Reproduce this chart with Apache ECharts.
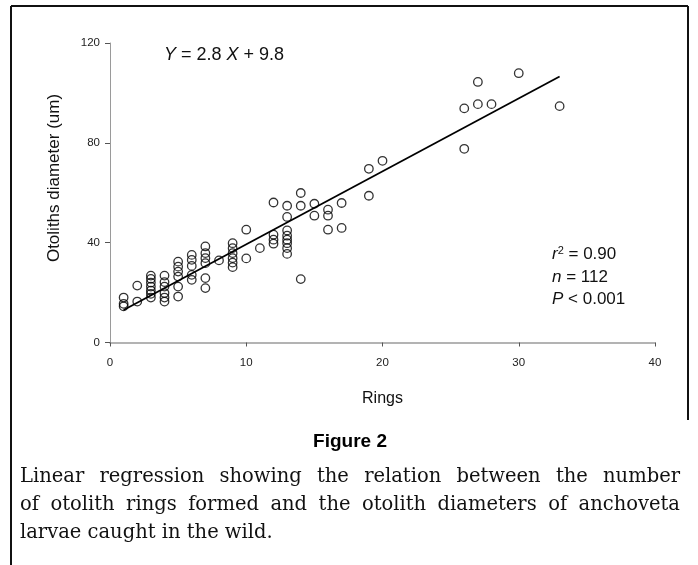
<!DOCTYPE html>
<html>
<head>
<meta charset="utf-8">
<script src="https://cdn.jsdelivr.net/npm/echarts@6/dist/echarts.min.js"></script>
<style>
html,body{margin:0;padding:0;background:#fff;}
#c{width:698px;height:565px;}
</style>
</head>
<body>
<div id="c"></div>
<script>
// ---- data ----
var rings = [
  1,1,1,
  2,2,
  3,3,3,3,3,3,3,
  4,4,4,4,4,4,
  5,5,5,5,5,5,
  6,6,6,6,6,
  7,7,7,7,7,7,
  8,
  9,9,9,9,9,9,
  10,10,
  11,
  12,12,12,12,
  13,13,13,13,13,13,13,13,
  14,14,14,
  15,15,
  16,16,16,
  17,17,
  19,19,
  20,
  26,26,26,
  27,27,
  28,
  30,
  33
];
var diameters = [
  18,15.5,14.5,
  22.8,16.4,
  26.8,25.5,24,22.4,20.8,19.5,18,
  26.8,24.2,22.4,19.8,18,16.4,
  32.4,30.4,28.4,26.4,22.4,18.4,
  35.1,33.1,30.7,27.1,25.1,
  38.5,35.8,33.8,31.8,25.8,21.8,
  32.9,
  39.8,37.8,35.8,33.8,32.0,30.2,
  45.2,33.7,
  37.8,
  56.1,43.2,41.2,39.6,
  54.8,50.3,44.9,42.8,41.2,39.8,37.8,35.5,
  59.9,54.8,25.4,
  55.6,50.8,
  53.2,50.8,45.2,
  55.9,45.9,
  69.6,58.8,
  72.8,
  120.2,93.8,77.6,
  104.4,95.5,
  95.5,
  107.9,
  94.7
];
var fitX = [1, 33];
var fitY = [13.0, 106.6];
var xTicks = [0, 10, 20, 30, 40];
var yTicks = [0, 40, 80, 120];
var captionLines = [
  "Linear regression showing the relation between the number",
  "of otolith rings formed and the otolith diameters of anchoveta",
  "larvae caught in the wild."
];

var points = rings.map(function(r, i){ return [r, diameters[i]]; });
var fitLine = fitX.map(function(x, i){ return [x, fitY[i]]; });

// ---- caption justification (layout only) ----
var capFont = '19.5px "DejaVu Serif"';
var meas = document.createElement('canvas').getContext('2d');
meas.font = capFont;
var capLeft = 20, capRight = 680, capMid = [477, 505, 533];
var captionGraphics = [];
captionLines.forEach(function(line, li){
  var words = line.split(' ');
  var justify = li < captionLines.length - 1;
  var widths = words.map(function(w){ return meas.measureText(w).width; });
  var total = widths.reduce(function(a,b){return a+b;}, 0);
  var gap = justify ? (capRight - capLeft - total) / (words.length - 1) : meas.measureText(' ').width;
  var x = capLeft;
  words.forEach(function(w, wi){
    captionGraphics.push({
      type: 'text', x: x, y: capMid[li],
      style: { text: w, font: capFont, fill: '#111', textVerticalAlign: 'middle', verticalAlign: 'middle' }
    });
    x += widths[wi] + gap;
  });
});

var chart = echarts.init(document.getElementById('c'), null, {renderer: 'canvas'});
var axisFont = 'Liberation Sans';
var italic = function(size){ return { fontStyle: 'italic', fontFamily: axisFont, fontSize: size, fill: '#111', color: '#111' }; };
var option = {
  backgroundColor: '#fff',
  animation: false,
  grid: { left: 110, right: 43, top: 43, bottom: 222.5 },
  xAxis: {
    type: 'value', min: 0, max: 40, interval: 10,
    axisLine: { lineStyle: { color: '#9a9a9a', width: 1.5 } },
    axisTick: { show: true, length: 4, lineStyle: { color: '#555' } },
    axisLabel: { color: '#222', fontFamily: axisFont, fontSize: 11.5, margin: 14,
      formatter: function(v){ return xTicks.indexOf(v) >= 0 ? String(v) : ''; } },
    splitLine: { show: false },
    name: 'Rings', nameLocation: 'middle', nameGap: 48,
    nameTextStyle: { fontFamily: axisFont, fontSize: 16, color: '#111' }
  },
  yAxis: {
    type: 'value', min: 0, max: 120, interval: 40,
    axisLine: { show: true, lineStyle: { color: '#9a9a9a', width: 1 } },
    axisTick: { show: true, length: 5, lineStyle: { color: '#555' } },
    axisLabel: { color: '#222', fontFamily: axisFont, fontSize: 11.5, margin: 10,
      formatter: function(v){ return yTicks.indexOf(v) >= 0 ? String(v) : ''; } },
    splitLine: { show: false }
  },
  series: [
    {
      type: 'scatter', data: points, symbol: 'circle', symbolSize: 8.5,
      itemStyle: { color: 'rgba(0,0,0,0)', borderColor: '#000', borderWidth: 1.3 },
      z: 3
    },
    {
      type: 'line', data: fitLine, showSymbol: false, symbol: 'none',
      lineStyle: { color: '#000', width: 1.8 }, z: 2
    }
  ],
  graphic: [
    { type: 'line', shape: { x1: 11, y1: 6, x2: 688, y2: 6 }, style: { stroke: '#111', lineWidth: 2 } },
    { type: 'line', shape: { x1: 11, y1: 6, x2: 11, y2: 565 }, style: { stroke: '#111', lineWidth: 2 } },
    { type: 'line', shape: { x1: 688, y1: 6, x2: 688, y2: 420 }, style: { stroke: '#111', lineWidth: 2 } },
    {
      type: 'text', x: 54, y: 178, rotation: Math.PI / 2,
      style: { text: 'Otoliths diameter (um)', font: '17px "Liberation Sans"', fill: '#111',
        textAlign: 'center', textVerticalAlign: 'middle', align: 'center', verticalAlign: 'middle' }
    },
    {
      type: 'text', x: 164, y: 55,
      style: {
        text: '{i|Y} = 2.8 {i|X} + 9.8', textVerticalAlign: 'middle', verticalAlign: 'middle',
        font: '18px "Liberation Sans"', fill: '#111',
        rich: { i: italic(18) }
      }
    },
    {
      type: 'text', x: 552, y: 254,
      style: {
        text: '{i|r}{s|2} = 0.90', textVerticalAlign: 'middle', verticalAlign: 'middle',
        font: '17px "Liberation Sans"', fill: '#111',
        rich: {
          i: italic(17),
          s: { fontFamily: axisFont, fontSize: 11, fill: '#111', color: '#111', verticalAlign: 'top', padding: [0,0,7,0] }
        }
      }
    },
    {
      type: 'text', x: 552, y: 277,
      style: {
        text: '{i|n} = 112', textVerticalAlign: 'middle', verticalAlign: 'middle',
        font: '17px "Liberation Sans"', fill: '#111', rich: { i: italic(17) }
      }
    },
    {
      type: 'text', x: 552, y: 299,
      style: {
        text: '{i|P} < 0.001', textVerticalAlign: 'middle', verticalAlign: 'middle',
        font: '17px "Liberation Sans"', fill: '#111', rich: { i: italic(17) }
      }
    },
    {
      type: 'text', x: 350, y: 442,
      style: { text: 'Figure 2', font: 'bold 19px "Liberation Sans Narrow", "Liberation Sans"', fill: '#000',
        textAlign: 'center', textVerticalAlign: 'middle', align: 'center', verticalAlign: 'middle' }
    }
  ].concat(captionGraphics)
};
chart.setOption(option);
</script>
</body>
</html>
